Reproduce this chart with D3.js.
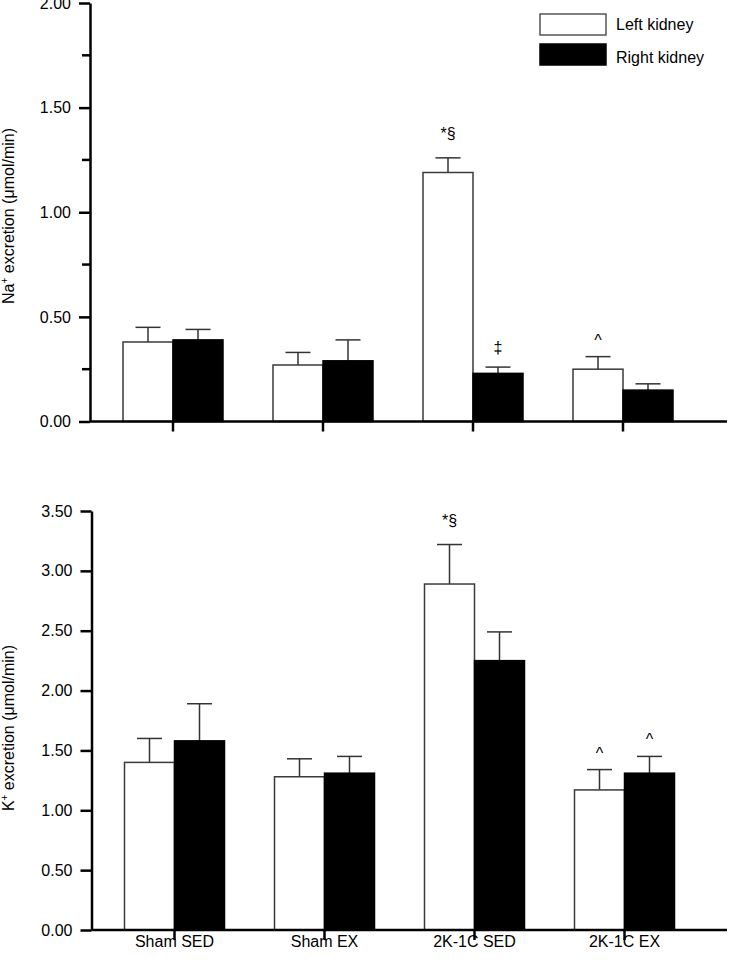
<!DOCTYPE html>
<html>
<head>
<meta charset="utf-8">
<script src="https://cdn.jsdelivr.net/npm/d3@7"></script>
<style>
  html, body { margin: 0; padding: 0; background: #fff; }
  svg { display: block; font-family: "Liberation Sans", Arial, sans-serif; }
</style>
</head>
<body>
<svg id="chart" width="733" height="968"></svg>
<script>
// ---- data ----
const categories = ["Sham SED", "Sham EX", "2K-1C SED", "2K-1C EX"];
const seriesNames = ["Left kidney", "Right kidney"];

const naLeft     = [0.38, 0.27, 1.19, 0.25];
const naLeftErr  = [0.07, 0.06, 0.07, 0.06];
const naRight    = [0.39, 0.29, 0.23, 0.15];
const naRightErr = [0.05, 0.10, 0.03, 0.03];
const naLeftMarks  = ["", "", "*§", "^"];
const naRightMarks = ["", "", "‡", ""];

const kLeft     = [1.40, 1.28, 2.89, 1.17];
const kLeftErr  = [0.20, 0.15, 0.33, 0.17];
const kRight    = [1.58, 1.31, 2.25, 1.31];
const kRightErr = [0.31, 0.14, 0.24, 0.14];
const kLeftMarks  = ["", "", "*§", "^"];
const kRightMarks = ["", "", "", "^"];

const naTicks = [0, 0.5, 1.0, 1.5, 2.0];
const naMinorTicks = [0.25, 0.75, 1.25, 1.75];
const kTicks = [0, 0.5, 1.0, 1.5, 2.0, 2.5, 3.0, 3.5];

// ---- drawing ----
const svg = d3.select("#chart");
const fills = ["#ffffff", "#000000"];
const strokes = ["#3a3a3a", "#000000"];

function drawPanel(opt) {
  const g = svg.append("g");
  const x = d3.scaleBand().domain(categories)
    .range([opt.axisX + 8, opt.axisX + 608])
    .paddingInner(1 / 3).paddingOuter(1 / 6);
  const sub = d3.scaleBand().domain([0, 1]).range([0, x.bandwidth()]);
  const y = d3.scaleLinear().domain(opt.domain).range([opt.y0, opt.y1]);

  const series = [
    { vals: opt.left, errs: opt.leftErr, marks: opt.leftMarks },
    { vals: opt.right, errs: opt.rightErr, marks: opt.rightMarks }
  ];

  series.forEach((s, si) => {
    const sg = g.append("g");
    sg.selectAll("line.eb").data(categories).enter().append("line")
      .attr("x1", (c) => x(c) + sub(si) + sub.bandwidth() / 2)
      .attr("x2", (c) => x(c) + sub(si) + sub.bandwidth() / 2)
      .attr("y1", (c, i) => y(s.vals[i]))
      .attr("y2", (c, i) => y(s.vals[i] + s.errs[i]))
      .attr("stroke", "#333").attr("stroke-width", 1.5);
    sg.selectAll("line.cap").data(categories).enter().append("line")
      .attr("x1", (c) => x(c) + sub(si) + sub.bandwidth() / 2 - 12.5)
      .attr("x2", (c) => x(c) + sub(si) + sub.bandwidth() / 2 + 12.5)
      .attr("y1", (c, i) => y(s.vals[i] + s.errs[i]))
      .attr("y2", (c, i) => y(s.vals[i] + s.errs[i]))
      .attr("stroke", "#333").attr("stroke-width", 1.5);
    sg.selectAll("rect").data(categories).enter().append("rect")
      .attr("x", (c) => x(c) + sub(si))
      .attr("width", sub.bandwidth())
      .attr("y", (c, i) => y(s.vals[i]))
      .attr("height", (c, i) => y(0) - y(s.vals[i]))
      .attr("fill", fills[si])
      .attr("stroke", strokes[si]).attr("stroke-width", 1.5);
    sg.selectAll("text").data(categories).enter().append("text")
      .attr("x", (c) => x(c) + sub(si) + sub.bandwidth() / 2)
      .attr("y", (c, i) => y(s.vals[i] + s.errs[i]) - (s.marks[i] === "*§" ? 19 : (s.marks[i] === "‡" ? 14 : 11)))
      .attr("text-anchor", "middle")
      .attr("font-size", 16)
      .attr("fill", "#000")
      .text((c, i) => s.marks[i]);
  });

  // y axis
  const yAxis = d3.axisLeft(y).tickValues(opt.ticks).tickFormat(d3.format(".2f"))
    .tickSize(11).tickPadding(8).tickSizeOuter(0);
  const ya = g.append("g").attr("transform", `translate(${opt.axisX},0)`).call(yAxis);
  ya.select(".domain").attr("stroke-width", 2.5);
  ya.selectAll(".tick line").attr("stroke-width", 2.5);
  ya.selectAll(".tick text").attr("font-size", 16).attr("fill", "#000")
    .attr("font-family", "'Liberation Sans', Arial, sans-serif");
  if (opt.minor) {
    g.append("g").selectAll("line").data(opt.minor).enter().append("line")
      .attr("x1", opt.axisX - 8).attr("x2", opt.axisX)
      .attr("y1", (d) => y(d)).attr("y2", (d) => y(d))
      .attr("stroke", "#000").attr("stroke-width", 2.5);
  }

  // x axis
  g.append("line").attr("x1", opt.axisX).attr("x2", 727)
    .attr("y1", y(0)).attr("y2", y(0))
    .attr("stroke", "#000").attr("stroke-width", 2.5);
  g.append("g").selectAll("line").data(categories).enter().append("line")
    .attr("x1", (c) => x(c) + x.bandwidth() / 2)
    .attr("x2", (c) => x(c) + x.bandwidth() / 2)
    .attr("y1", y(0)).attr("y2", y(0) + 10)
    .attr("stroke", "#000").attr("stroke-width", 2.5);
  if (opt.showLabels) {
    g.append("g").selectAll("text").data(categories).enter().append("text")
      .attr("x", (c) => x(c) + x.bandwidth() / 2)
      .attr("y", y(0) + 17)
      .attr("text-anchor", "middle").attr("font-size", 16)
      .text((c) => c);
  }

  // y title
  const t = g.append("text")
    .attr("transform", `translate(14,${opt.titleY}) rotate(-90)`)
    .attr("text-anchor", "middle").attr("font-size", 16);
  t.append("tspan").text(opt.ion);
  t.append("tspan").attr("font-size", 10).attr("dy", -6).text("+");
  t.append("tspan").attr("dy", 6).text(" excretion (μmol/min)");
}

drawPanel({
  axisX: 90, domain: [0, 2], y0: 421.5, y1: 3, ticks: naTicks, minor: naMinorTicks,
  left: naLeft, leftErr: naLeftErr, right: naRight, rightErr: naRightErr,
  leftMarks: naLeftMarks, rightMarks: naRightMarks, showLabels: false,
  ion: "Na", titleY: 216
});
drawPanel({
  axisX: 91.5, domain: [0, 3.5], y0: 930, y1: 511, ticks: kTicks, minor: null,
  left: kLeft, leftErr: kLeftErr, right: kRight, rightErr: kRightErr,
  leftMarks: kLeftMarks, rightMarks: kRightMarks, showLabels: true,
  ion: "K", titleY: 728
});

// legend
const legend = svg.append("g");
seriesNames.forEach((name, i) => {
  legend.append("rect").attr("x", 540).attr("y", 14 + i * 30).attr("width", 66).attr("height", 21)
    .attr("fill", fills[i]).attr("stroke", i === 0 ? "#555" : "#000").attr("stroke-width", 1.5);
  legend.append("text").attr("x", 616).attr("y", 30 + i * 33).attr("font-size", 16).text(name);
});
</script>
</body>
</html>
